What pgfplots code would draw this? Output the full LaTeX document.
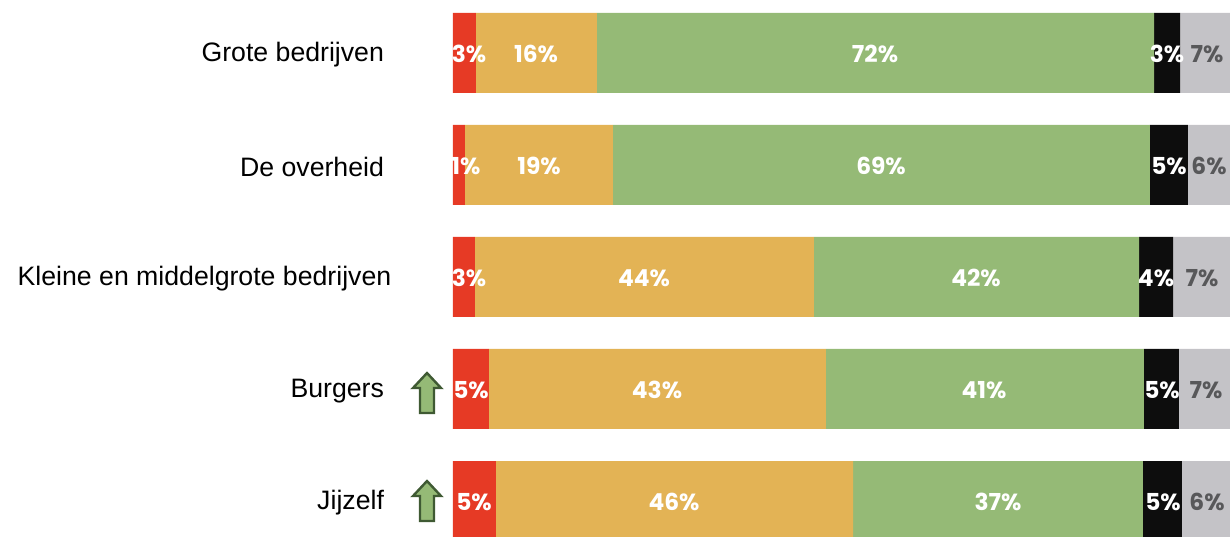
\documentclass[border=0pt]{standalone}
\usepackage{fontspec}
\setmainfont{Liberation Sans}
\newfontfamily\labfont{Poppins}
\usepackage{pgfplots}
\pgfplotsset{compat=1.18}
\definecolor{cred}{HTML}{E63A25}
\definecolor{corange}{HTML}{E3B355}
\definecolor{cgreen}{HTML}{95BA76}
\definecolor{cblack}{HTML}{0D0D0D}
\definecolor{cgrey}{HTML}{C4C3C7}
\definecolor{labgrey}{HTML}{58585A}
\definecolor{arrowline}{HTML}{3F5A33}
\pgfplotsset{
  labels/.style={draw=none, mark=none, point meta=explicit symbolic, nodes near coords,
    every node near coord/.append style={anchor=center, inner sep=0pt, text=#1,
      font=\fontsize{17.5}{19}\labfont\bfseries}},
}
\begin{document}
\begin{tikzpicture}
\begin{axis}[
    name=main,
    xbar stacked,
    scale only axis,
    width=582.75pt, height=402pt,
    xmin=0, xmax=100,
    ymin=-0.3125, ymax=4.473,
    bar width=60pt,
    axis line style={draw=none},
    xtick=\empty,
    ytick={0,1,2,3,4},
    yticklabels={Jijzelf, Burgers, Kleine en middelgrote bedrijven\kern-5.5pt, De overheid, Grote bedrijven},
    major tick length=0pt,
    tick label style={font=\fontsize{20}{22}\selectfont, text=black},
    y tick label style={xshift=-51.6pt, yshift=-1.2pt, inner sep=0pt},
]
\addplot[fill=cred, draw=none] coordinates {(5.53,0) (4.63,1) (2.83,2) (1.54,3) (2.96,4)};
\addplot[fill=corange, draw=none] coordinates {(45.95,0) (43.37,1) (43.63,2) (19.05,3) (15.57,4)};
\addplot[fill=cgreen, draw=none] coordinates {(37.32,0) (40.93,1) (41.83,2) (69.11,3) (71.69,4)};
\addplot[fill=cblack, draw=none] coordinates {(5.02,0) (4.50,1) (4.38,2) (4.89,3) (3.35,4)};
\addplot[fill=cgrey, draw=none] coordinates {(6.18,0) (6.56,1) (7.34,2) (5.41,3) (6.44,4)};
\end{axis}
% overlay in picture pixels: value labels and trend arrows
\begin{axis}[
    at={(main.south west)}, anchor=south west, xshift=-339.75pt,
    scale only axis, hide axis, clip=false,
    width=922.5pt, height=402pt,
    xmin=0, xmax=1230, ymin=0, ymax=536, y dir=reverse,
]
\addplot[labels=white] coordinates {
  (469,54)[3\%] (536,54)[16\%] (875,54)[72\%] (1167,54)[3\%]
  (466,166)[1\%] (539,166)[19\%] (881,166)[69\%] (1169,166)[5\%]
  (469,278)[3\%] (644,278)[44\%] (976,278)[42\%] (1156,278)[4\%]
  (471,390)[5\%] (657,390)[43\%] (984,390)[41\%] (1162,390)[5\%]
  (474,502)[5\%] (674,502)[46\%] (998,502)[37\%] (1163,502)[5\%]
};
\addplot[labels=labgrey] coordinates {
  (1207,54)[7\%] (1209,166)[6\%] (1202,278)[7\%] (1206,390)[7\%] (1207,502)[6\%]
};
\addplot[fill=cgreen, draw=arrowline, line width=1.8pt] coordinates {
  (427,373) (441,388) (434,388) (434,413) (420,413) (420,388) (413,388)} --cycle;
\addplot[fill=cgreen, draw=arrowline, line width=1.8pt] coordinates {
  (427,481) (441,496) (434,496) (434,521) (420,521) (420,496) (413,496)} --cycle;
\end{axis}
\pgfresetboundingbox
\path[use as bounding box] (main.south west) ++(-339.75pt,0pt) rectangle (main.north east);
\end{tikzpicture}
\end{document}
